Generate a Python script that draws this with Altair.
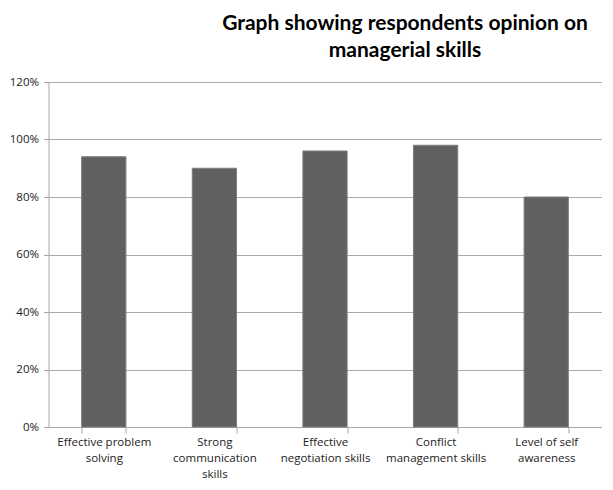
import altair as alt
import pandas as pd

categories = [
    "Effective problem solving",
    "Strong communication skills",
    "Effective negotiation skills",
    "Conflict management skills",
    "Level of self awareness",
]
label_lines = [
    ["Effective problem", "solving"],
    ["Strong", "communication", "skills"],
    ["Effective", "negotiation skills"],
    ["Conflict", "management skills"],
    ["Level of self", "awareness"],
]
values = [0.94, 0.90, 0.96, 0.98, 0.80]
y_ticks = [0, 0.2, 0.4, 0.6, 0.8, 1.0, 1.2]

df = pd.DataFrame({"category": categories, "value": values})

expr_parts = []
for c, lines in zip(categories, label_lines):
    arr = "[" + ",".join("'" + l + "'" for l in lines) + "]"
    expr_parts.append(f"datum.value == '{c}' ? {arr}")
label_expr = " : ".join(expr_parts) + " : datum.label"

FONT = "Open Sans"

chart = (
    alt.Chart(df)
    .mark_bar(color="#606060", stroke="#7c7c7c", strokeWidth=1)
    .encode(
        x=alt.X(
            "category:N",
            sort=categories,
            scale=alt.Scale(paddingInner=0.6, paddingOuter=0.3),
            axis=alt.Axis(
                title=None,
                labelAngle=0,
                labelExpr=label_expr,
                labelFont=FONT,
                labelFontSize=11.5,
                labelColor="#222222",
                labelPadding=3,
                labelLineHeight=16,
                labelBaseline="top",
                tickBand="extent",
                tickSize=6,
                tickColor="#a6a6a6",
                domainColor="#a6a6a6",
                grid=False,
            ),
        ),
        y=alt.Y(
            "value:Q",
            scale=alt.Scale(domain=[0, 1.2], nice=False),
            axis=alt.Axis(
                title=None,
                values=y_ticks,
                format=".0%",
                labelFont=FONT,
                labelFontSize=11.5,
                labelColor="#222222",
                labelPadding=5,
                tickSize=5,
                tickColor="#a6a6a6",
                domainColor="#a6a6a6",
                gridColor="#aaaaaa",
                grid=True,
            ),
        ),
    )
    .properties(
        width=553,
        height=345,
        padding={"left": 40.5, "top": 74, "right": 3, "bottom": 55},
        autosize=alt.AutoSizeParams(type="none"),
        title=alt.TitleParams(
            text=["Graph showing respondents opinion on", "managerial skills"],
            font="Lato",
            fontSize=21,
            fontWeight="bold",
            color="#000000",
            anchor="middle",
            dx=80,
            offset=15,
            lineHeight=27,
        ),
    )
    .configure_view(stroke=None)
)

chart.save("out.html", embed_options={"renderer": "svg", "actions": False})
